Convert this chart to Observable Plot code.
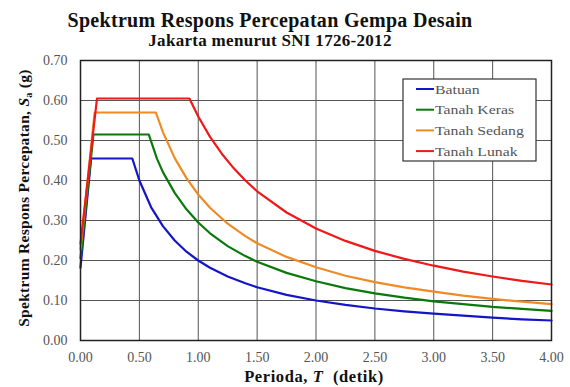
<!DOCTYPE html>
<html><head><meta charset="utf-8">
<script src="https://cdn.jsdelivr.net/npm/d3@7"></script>
<script src="https://cdn.jsdelivr.net/npm/@observablehq/plot@0.6"></script>
<style>body{margin:0;background:#fff}</style>
</head><body><div id="chart"></div>
<script>
const titleText = "Spektrum Respons Percepatan Gempa Desain";
const subtitleText = "Jakarta menurut SNI 1726-2012";
const seriesNames = ["Batuan", "Tanah Keras", "Tanah Sedang", "Tanah Lunak"];
const seriesColors = ["#1414c8", "#0a780a", "#f08a24", "#f01818"];

const batuanT  = [0, 0.09, 0.44, 0.5, 0.6, 0.7, 0.8, 0.9, 1.0, 1.1, 1.25, 1.4, 1.5, 1.75, 2.0, 2.25, 2.5, 2.75, 3.0, 3.25, 3.5, 3.75, 4.0];
const batuanSa = [0.182, 0.455, 0.455, 0.40, 0.333, 0.286, 0.25, 0.222, 0.20, 0.182, 0.16, 0.143, 0.133, 0.114, 0.10, 0.089, 0.08, 0.073, 0.067, 0.062, 0.057, 0.053, 0.05];

const kerasT  = [0, 0.11, 0.58, 0.65, 0.7, 0.8, 0.9, 1.0, 1.1, 1.25, 1.4, 1.5, 1.75, 2.0, 2.25, 2.5, 2.75, 3.0, 3.25, 3.5, 3.75, 4.0];
const kerasSa = [0.206, 0.515, 0.515, 0.454, 0.421, 0.369, 0.328, 0.295, 0.268, 0.236, 0.211, 0.197, 0.169, 0.148, 0.131, 0.118, 0.107, 0.098, 0.091, 0.084, 0.079, 0.074];

const sedangT  = [0, 0.12, 0.64, 0.7, 0.8, 0.9, 1.0, 1.1, 1.25, 1.4, 1.5, 1.75, 2.0, 2.25, 2.5, 2.75, 3.0, 3.25, 3.5, 3.75, 4.0];
const sedangSa = [0.228, 0.57, 0.57, 0.521, 0.456, 0.406, 0.365, 0.332, 0.292, 0.261, 0.243, 0.209, 0.183, 0.162, 0.146, 0.133, 0.122, 0.112, 0.104, 0.097, 0.091];

const lunakT  = [0, 0.14, 0.925, 1.0, 1.1, 1.2, 1.3, 1.4, 1.5, 1.75, 2.0, 2.25, 2.5, 2.75, 3.0, 3.25, 3.5, 3.75, 4.0];
const lunakSa = [0.242, 0.605, 0.605, 0.56, 0.509, 0.467, 0.431, 0.40, 0.373, 0.32, 0.28, 0.249, 0.224, 0.204, 0.187, 0.172, 0.16, 0.149, 0.14];

const xTicks = [0, 0.5, 1.0, 1.5, 2.0, 2.5, 3.0, 3.5, 4.0];
const yTicks = [0, 0.1, 0.2, 0.3, 0.4, 0.5, 0.6, 0.7];

const allT = [batuanT, kerasT, sedangT, lunakT];
const allSa = [batuanSa, kerasSa, sedangSa, lunakSa];
const rows = [];
seriesNames.forEach((name, i) => {
  allT[i].forEach((t, j) => rows.push({series: name, T: t, Sa: allSa[i][j]}));
});

const serif = "Liberation Serif, DejaVu Serif, serif";

const svg = Plot.plot({
  width: 570, height: 387,
  marginTop: 60, marginBottom: 47, marginLeft: 80, marginRight: 19,
  style: {fontFamily: serif, fontSize: "14px", color: "#555", background: "#fff"},
  x: {domain: [0, 4], ticks: xTicks, tickFormat: d3.format(".2f"), tickSize: 0, tickPadding: 12, label: null},
  y: {domain: [0, 0.7], ticks: yTicks, tickFormat: d3.format(".2f"), tickSize: 0, tickPadding: 13, label: null},
  color: {domain: seriesNames, range: seriesColors},
  marks: [
    Plot.ruleX(xTicks, {stroke: "#555", strokeWidth: 1}),
    Plot.ruleY(yTicks, {stroke: "#555", strokeWidth: 1}),
    Plot.line(rows, {x: "T", y: "Sa", z: "series", stroke: "series", strokeWidth: 2.2}),
    Plot.frame({stroke: "#222", strokeWidth: 1.5})
  ]
});
document.getElementById("chart").appendChild(svg);

const s = d3.select(svg);
s.attr("font-family", serif).style("font-family", serif);
s.selectAll("g[aria-label$='tick label'] text, g[aria-label$='tick label']")
  .attr("font-family", serif).attr("font-size", 14).attr("fill", "#555");

function addText(x, y, size, anchor) {
  return s.append("text").attr("x", x).attr("y", y).attr("text-anchor", anchor)
    .attr("font-family", serif).attr("font-size", size);
}
addText(270, 27, 20, "middle").attr("font-weight", "bold").attr("fill", "#111").attr("letter-spacing", 0.3).text(titleText);
addText(270, 46, 17, "middle").attr("font-weight", "bold").attr("fill", "#111").attr("letter-spacing", 0.3).text(subtitleText);

const yl = s.append("text").attr("transform", "translate(29,198) rotate(-90)").attr("text-anchor", "middle")
  .attr("font-family", serif).attr("font-weight", "bold").attr("font-size", 15.5).attr("fill", "#111").attr("letter-spacing", 0.3);
yl.append("tspan").text("Spektrum Respons Percepatan, ");
yl.append("tspan").attr("font-style", "italic").text("S");
yl.append("tspan").attr("font-size", 10).attr("dy", 3).text("a");
yl.append("tspan").attr("dy", -3).text(" (g)");

const xl = s.append("text").attr("x", 314).attr("y", 382).attr("text-anchor", "middle")
  .attr("font-family", serif).attr("font-weight", "bold").attr("font-size", 16.5).attr("fill", "#111")
  .attr("letter-spacing", 0.6).attr("xml:space", "preserve");
xl.append("tspan").text("Perioda, ");
xl.append("tspan").attr("font-style", "italic").text("T");
xl.append("tspan").text("  (detik)");

const lg = s.append("g");
lg.append("rect").attr("x", 403).attr("y", 79).attr("width", 133).attr("height", 82)
  .attr("fill", "#fff").attr("stroke", "#333").attr("stroke-width", 1.2);
seriesNames.forEach((name, i) => {
  const cy = 89 + i * 20.7;
  lg.append("line").attr("x1", 416).attr("x2", 434).attr("y1", cy).attr("y2", cy)
    .attr("stroke", seriesColors[i]).attr("stroke-width", 2);
  s.append("text").attr("transform", `translate(435,${cy}) scale(1.17,1)`)
    .attr("text-anchor", "start").attr("font-family", serif).attr("font-size", 13.5)
    .attr("dy", "0.35em").attr("fill", "#555").text(name);
});
</script>
</body></html>
